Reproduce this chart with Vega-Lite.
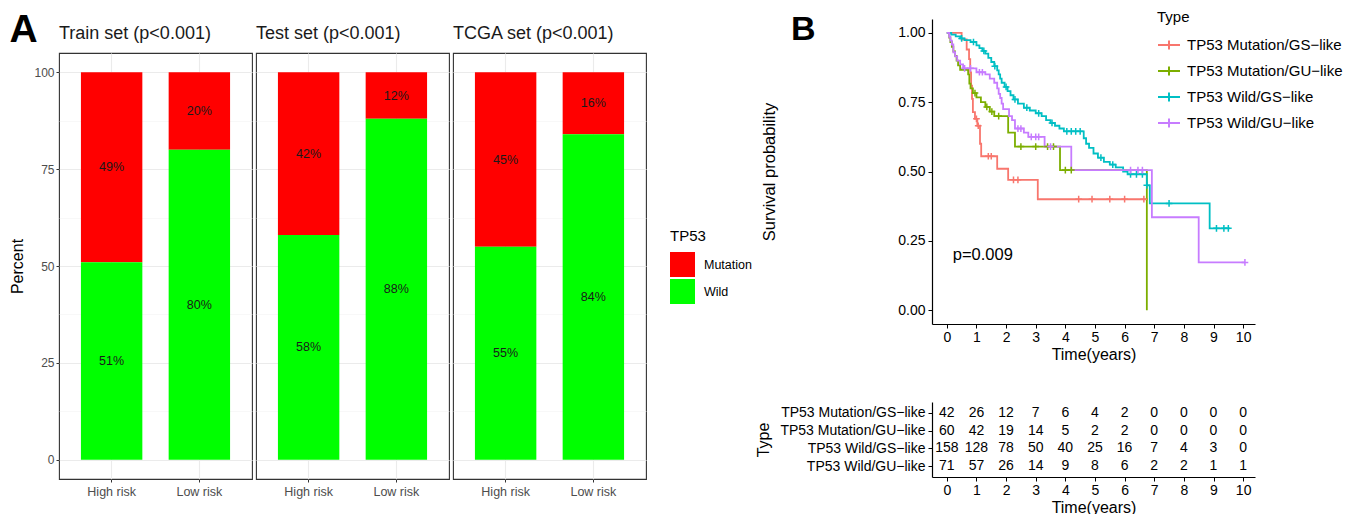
{
  "$schema": "https://vega.github.io/schema/vega-lite/v6.json",
  "padding": {"left": 9, "top": 10, "right": 2, "bottom": 0},
  "background": "white",
  "config": {"font": "Liberation Sans", "view": {"stroke": null}},
  "resolve": {"scale": {"color": "independent"}},
  "align": "none",
  "spacing": 3,
  "hconcat": [
    {
      "title": {"text": "A", "anchor": "start", "frame": "bounds", "fontSize": 39, "fontWeight": "bold", "color": "black", "offset": -31},
      "spacing": 4,
      "vconcat": [
        {
          "width": 1, "height": 1,
          "view": {"stroke": null},
          "data": {"values": [{"blank": ""}]},
          "mark": {"type": "text", "fontSize": 0},
          "encoding": {"text": {"field": "blank"}}
        },
        {
          "spacing": 2,
          "hconcat": [
            {
              "width": 193, "height": 426,
              "view": {"stroke": "#333333", "strokeWidth": 1.1, "fill": "white"},
              "title": {"text": "Train set (p<0.001)", "anchor": "start", "frame": "group", "fontSize": 18, "fontWeight": "normal", "color": "#1a1a1a", "offset": 10},
              "data": {"name": "bars"},
              "transform": [
                {"filter": "datum.set === 'Train'"},
                {"stack": "pct", "groupby": ["risk"], "sort": [{"field": "TP53", "order": "descending"}], "as": ["y0", "y1"]},
                {"calculate": "(datum.y0 + datum.y1) / 2", "as": "ymid"},
                {"calculate": "datum.pct + '%'", "as": "label"}
              ],
              "layer": [
                {"mark": {"type": "bar", "strokeWidth": 0},
                 "encoding": {
                   "x": {"field": "risk", "type": "nominal", "sort": ["High risk", "Low risk"], "scale": {"paddingInner": 0.3, "paddingOuter": 0.25},
                         "axis": {"title": null, "labelAngle": 0, "labelFontSize": 12.5, "labelColor": "#4d4d4d", "tickColor": "#333333", "tickSize": 3, "domain": false, "grid": true, "gridColor": "#ebebeb", "gridWidth": 1.1, "bandPosition": 0.5, "labelPadding": 3}},
                   "y": {"field": "y0", "type": "quantitative", "scale": {"domain": [-5, 105], "nice": false, "zero": false},
                         "axis": {"values": [0, 25, 50, 75, 100], "title": "Percent", "titleFontSize": 16, "titleFontWeight": "normal", "titleColor": "black", "titlePadding": 8, "labelFontSize": 12, "labelColor": "#4d4d4d", "tickColor": "#333333", "tickSize": 3, "labelPadding": 2, "domain": false, "grid": true, "gridColor": "#ebebeb", "gridWidth": 1.1}},
                   "y2": {"field": "y1"},
                   "color": {"field": "TP53", "type": "nominal", "scale": {"domain": ["Mutation", "Wild"], "range": ["#FF0000", "#00FF00"]},
                             "legend": {"title": "TP53", "orient": "none", "legendX": 611, "legendY": 210, "titleFontSize": 15, "titleFontWeight": "normal", "titleColor": "black", "titlePadding": 8, "labelFontSize": 12.5, "labelColor": "black", "symbolType": "square", "symbolSize": 625, "symbolStrokeWidth": 0, "symbolOpacity": 1, "rowPadding": 2, "labelOffset": 9}}
                 }},
                {"mark": {"type": "text", "fontSize": 12.5, "color": "#1a1a1a"},
                 "encoding": {
                   "x": {"field": "risk", "type": "nominal", "sort": ["High risk", "Low risk"]},
                   "y": {"field": "ymid", "type": "quantitative", "scale": {"domain": [-5, 105], "nice": false, "zero": false},
                         "axis": {"values": [12.5, 37.5, 62.5, 87.5], "grid": true, "gridColor": "#f3f3f3", "gridWidth": 0.6, "labels": false, "ticks": false, "domain": false, "title": null, "orient": "right"}},
                   "text": {"field": "label"}
                 }}
              ],
              "resolve": {"axis": {"y": "independent"}}
            },
            {
              "width": 193, "height": 426,
              "view": {"stroke": "#333333", "strokeWidth": 1.1, "fill": "white"},
              "title": {"text": "Test set (p<0.001)", "anchor": "start", "frame": "group", "fontSize": 18, "fontWeight": "normal", "color": "#1a1a1a", "offset": 10},
              "data": {"name": "bars"},
              "transform": [
                {"filter": "datum.set === 'Test'"},
                {"stack": "pct", "groupby": ["risk"], "sort": [{"field": "TP53", "order": "descending"}], "as": ["y0", "y1"]},
                {"calculate": "(datum.y0 + datum.y1) / 2", "as": "ymid"},
                {"calculate": "datum.pct + '%'", "as": "label"}
              ],
              "layer": [
                {"mark": {"type": "bar", "strokeWidth": 0},
                 "encoding": {
                   "x": {"field": "risk", "type": "nominal", "sort": ["High risk", "Low risk"], "scale": {"paddingInner": 0.3, "paddingOuter": 0.25},
                         "axis": {"title": null, "labelAngle": 0, "labelFontSize": 12.5, "labelColor": "#4d4d4d", "tickColor": "#333333", "tickSize": 3, "domain": false, "grid": true, "gridColor": "#ebebeb", "gridWidth": 1.1, "bandPosition": 0.5, "labelPadding": 3}},
                   "y": {"field": "y0", "type": "quantitative", "scale": {"domain": [-5, 105], "nice": false, "zero": false},
                         "axis": {"values": [0, 25, 50, 75, 100], "title": null, "labels": false, "ticks": false, "domain": false, "grid": true, "gridColor": "#ebebeb", "gridWidth": 1.1}},
                   "y2": {"field": "y1"},
                   "color": {"field": "TP53", "type": "nominal", "scale": {"domain": ["Mutation", "Wild"], "range": ["#FF0000", "#00FF00"]},
                             "legend": {"title": "TP53", "orient": "none", "legendX": 611, "legendY": 210, "titleFontSize": 15, "titleFontWeight": "normal", "titleColor": "black", "titlePadding": 8, "labelFontSize": 12.5, "labelColor": "black", "symbolType": "square", "symbolSize": 625, "symbolStrokeWidth": 0, "symbolOpacity": 1, "rowPadding": 2, "labelOffset": 9}}
                 }},
                {"mark": {"type": "text", "fontSize": 12.5, "color": "#1a1a1a"},
                 "encoding": {
                   "x": {"field": "risk", "type": "nominal", "sort": ["High risk", "Low risk"]},
                   "y": {"field": "ymid", "type": "quantitative", "scale": {"domain": [-5, 105], "nice": false, "zero": false},
                         "axis": {"values": [12.5, 37.5, 62.5, 87.5], "grid": true, "gridColor": "#f3f3f3", "gridWidth": 0.6, "labels": false, "ticks": false, "domain": false, "title": null, "orient": "right"}},
                   "text": {"field": "label"}
                 }}
              ],
              "resolve": {"axis": {"y": "independent"}}
            },
            {
              "width": 193, "height": 426,
              "view": {"stroke": "#333333", "strokeWidth": 1.1, "fill": "white"},
              "title": {"text": "TCGA set (p<0.001)", "anchor": "start", "frame": "group", "fontSize": 18, "fontWeight": "normal", "color": "#1a1a1a", "offset": 10},
              "data": {"name": "bars"},
              "transform": [
                {"filter": "datum.set === 'TCGA'"},
                {"stack": "pct", "groupby": ["risk"], "sort": [{"field": "TP53", "order": "descending"}], "as": ["y0", "y1"]},
                {"calculate": "(datum.y0 + datum.y1) / 2", "as": "ymid"},
                {"calculate": "datum.pct + '%'", "as": "label"}
              ],
              "layer": [
                {"mark": {"type": "bar", "strokeWidth": 0},
                 "encoding": {
                   "x": {"field": "risk", "type": "nominal", "sort": ["High risk", "Low risk"], "scale": {"paddingInner": 0.3, "paddingOuter": 0.25},
                         "axis": {"title": null, "labelAngle": 0, "labelFontSize": 12.5, "labelColor": "#4d4d4d", "tickColor": "#333333", "tickSize": 3, "domain": false, "grid": true, "gridColor": "#ebebeb", "gridWidth": 1.1, "bandPosition": 0.5, "labelPadding": 3}},
                   "y": {"field": "y0", "type": "quantitative", "scale": {"domain": [-5, 105], "nice": false, "zero": false},
                         "axis": {"values": [0, 25, 50, 75, 100], "title": null, "labels": false, "ticks": false, "domain": false, "grid": true, "gridColor": "#ebebeb", "gridWidth": 1.1}},
                   "y2": {"field": "y1"},
                   "color": {"field": "TP53", "type": "nominal", "scale": {"domain": ["Mutation", "Wild"], "range": ["#FF0000", "#00FF00"]},
                             "legend": {"title": "TP53", "orient": "none", "legendX": 611, "legendY": 210, "titleFontSize": 15, "titleFontWeight": "normal", "titleColor": "black", "titlePadding": 8, "labelFontSize": 12.5, "labelColor": "black", "symbolType": "square", "symbolSize": 625, "symbolStrokeWidth": 0, "symbolOpacity": 1, "rowPadding": 2, "labelOffset": 9}}
                 }},
                {"mark": {"type": "text", "fontSize": 12.5, "color": "#1a1a1a"},
                 "encoding": {
                   "x": {"field": "risk", "type": "nominal", "sort": ["High risk", "Low risk"]},
                   "y": {"field": "ymid", "type": "quantitative", "scale": {"domain": [-5, 105], "nice": false, "zero": false},
                         "axis": {"values": [12.5, 37.5, 62.5, 87.5], "grid": true, "gridColor": "#f3f3f3", "gridWidth": 0.6, "labels": false, "ticks": false, "domain": false, "title": null, "orient": "right"}},
                   "text": {"field": "label"}
                 }}
              ],
              "resolve": {"axis": {"y": "independent"}}
            }
          ]
        }
      ]
    },
    {
      "title": {"text": "B", "anchor": "start", "frame": "bounds", "fontSize": 34, "fontWeight": "bold", "color": "black", "offset": -37, "dx": 35},
      "spacing": 40,
      "vconcat": [
        {
          "width": 323, "height": 305,
          "view": {"stroke": null},
          "encoding": {
            "x": {"field": "t", "type": "quantitative", "scale": {"domain": [-0.5, 10.4], "nice": false, "zero": false},
                  "axis": {"values": [0, 1, 2, 3, 4, 5, 6, 7, 8, 9, 10], "title": "Time(years)", "titleFontSize": 16, "titleFontWeight": "normal", "titleColor": "black", "labelFontSize": 14, "labelColor": "black", "domainColor": "black", "domainWidth": 1.2, "tickColor": "black", "tickSize": 4, "labelPadding": 2, "titlePadding": 2, "grid": false, "labelFlush": false, "labelOverlap": false}},
            "y": {"field": "s", "type": "quantitative", "scale": {"domain": [-0.05, 1.05], "nice": false, "zero": false},
                  "axis": {"values": [0, 0.25, 0.5, 0.75, 1], "format": ".2f", "title": "Survival probability", "titleFontSize": 16.5, "titleFontWeight": "normal", "titleColor": "black", "titlePadding": 120, "labelFontSize": 14, "labelColor": "black", "domainColor": "black", "domainWidth": 1.2, "tickColor": "black", "tickSize": 4, "labelPadding": 3, "grid": false, "labelOverlap": false}}
          },
          "layer": [
            {"data": {"name": "km"},
             "mark": {"type": "line", "interpolate": "step-after", "strokeWidth": 1.8},
             "encoding": {
               "color": {"field": "grp", "type": "nominal",
                         "scale": {"domain": ["TP53 Mutation/GS−like", "TP53 Mutation/GU−like", "TP53 Wild/GS−like", "TP53 Wild/GU−like"], "range": ["#F8766D", "#7CAE00", "#00BFC4", "#C77CFF"]},
                         "legend": {"title": "Type", "orient": "none", "legendX": 225, "legendY": -9, "titleFontSize": 15, "titleFontWeight": "normal", "titleColor": "black", "titlePadding": 8, "labelFontSize": 15, "labelColor": "black", "labelLimit": 400, "symbolType": "M-1,0H1M0,-0.4V0.4", "symbolSize": 484, "symbolStrokeWidth": 2, "rowPadding": 5, "labelOffset": 6}}
             }},
            {"data": {"name": "cens"},
             "mark": {"type": "point", "shape": "M-1,0H1M0,-1V1", "size": 45, "filled": false, "strokeWidth": 1.5, "opacity": 1},
             "encoding": {
               "color": {"field": "grp", "type": "nominal",
                         "legend": {"title": "Type", "orient": "none", "legendX": 225, "legendY": -9, "titleFontSize": 15, "titleFontWeight": "normal", "titleColor": "black", "titlePadding": 8, "labelFontSize": 15, "labelColor": "black", "labelLimit": 400, "symbolType": "M-1,0H1M0,-0.4V0.4", "symbolSize": 484, "symbolStrokeWidth": 2, "rowPadding": 5, "labelOffset": 6}}
             }},
            {"data": {"name": "pv"},
             "mark": {"type": "text", "align": "left", "baseline": "middle", "fontSize": 16.5, "color": "black"},
             "encoding": {
               "text": {"field": "label"}
             }}
          ]
        },
        {
          "width": 323, "height": 75,
          "view": {"stroke": null},
          "data": {"name": "risk"},
          "mark": {"type": "text", "fontSize": 14, "color": "black"},
          "encoding": {
            "x": {"field": "t", "type": "quantitative", "scale": {"domain": [-0.5, 10.4], "nice": false, "zero": false},
                  "axis": {"values": [0, 1, 2, 3, 4, 5, 6, 7, 8, 9, 10], "title": "Time(years)", "titleFontSize": 16, "titleFontWeight": "normal", "titleColor": "black", "labelFontSize": 14, "labelColor": "black", "domainColor": "black", "domainWidth": 1.2, "tickColor": "black", "tickSize": 4, "labelPadding": 2, "titlePadding": 2, "grid": false, "labelFlush": false, "labelOverlap": false}},
            "y": {"field": "grp", "type": "nominal",
                  "scale": {"type": "point", "padding": 0.6, "domain": ["TP53 Mutation/GS−like", "TP53 Mutation/GU−like", "TP53 Wild/GS−like", "TP53 Wild/GU−like"]},
                  "axis": {"title": "Type", "titleFontSize": 16, "titleFontWeight": "normal", "titleColor": "black", "titlePadding": 8, "labelFontSize": 14, "labelPadding": 3, "labelLimit": 300, "tickSize": 4, "tickColor": "black", "domainColor": "black", "domainWidth": 1.2, "grid": false,
                           "encode": {"labels": {"update": {"fill": {"signal": "datum.value === 'TP53 Mutation/GS−like' ? '#F8766D' : datum.value === 'TP53 Mutation/GU−like' ? '#7CAE00' : datum.value === 'TP53 Wild/GS−like' ? '#00BFC4' : '#C77CFF'"}}}}}},
            "text": {"field": "n", "type": "quantitative"}
          }
        }
      ]
    }
  ],
  "datasets": {
    "bars": [
      {"set": "Train", "risk": "High risk", "TP53": "Mutation", "pct": 49},
      {"set": "Train", "risk": "High risk", "TP53": "Wild", "pct": 51},
      {"set": "Train", "risk": "Low risk", "TP53": "Mutation", "pct": 20},
      {"set": "Train", "risk": "Low risk", "TP53": "Wild", "pct": 80},
      {"set": "Test", "risk": "High risk", "TP53": "Mutation", "pct": 42},
      {"set": "Test", "risk": "High risk", "TP53": "Wild", "pct": 58},
      {"set": "Test", "risk": "Low risk", "TP53": "Mutation", "pct": 12},
      {"set": "Test", "risk": "Low risk", "TP53": "Wild", "pct": 88},
      {"set": "TCGA", "risk": "High risk", "TP53": "Mutation", "pct": 45},
      {"set": "TCGA", "risk": "High risk", "TP53": "Wild", "pct": 55},
      {"set": "TCGA", "risk": "Low risk", "TP53": "Mutation", "pct": 16},
      {"set": "TCGA", "risk": "Low risk", "TP53": "Wild", "pct": 84}
    ],
    "km": [
      {"grp": "TP53 Mutation/GS−like", "t": 0, "s": 1},
      {"grp": "TP53 Mutation/GS−like", "t": 0.5, "s": 0.976},
      {"grp": "TP53 Mutation/GS−like", "t": 0.67, "s": 0.94},
      {"grp": "TP53 Mutation/GS−like", "t": 0.75, "s": 0.905},
      {"grp": "TP53 Mutation/GS−like", "t": 0.79, "s": 0.857},
      {"grp": "TP53 Mutation/GS−like", "t": 0.82, "s": 0.81},
      {"grp": "TP53 Mutation/GS−like", "t": 0.85, "s": 0.762},
      {"grp": "TP53 Mutation/GS−like", "t": 0.88, "s": 0.714},
      {"grp": "TP53 Mutation/GS−like", "t": 0.95, "s": 0.69},
      {"grp": "TP53 Mutation/GS−like", "t": 1.03, "s": 0.665},
      {"grp": "TP53 Mutation/GS−like", "t": 1.12, "s": 0.6},
      {"grp": "TP53 Mutation/GS−like", "t": 1.16, "s": 0.555},
      {"grp": "TP53 Mutation/GS−like", "t": 1.7, "s": 0.51},
      {"grp": "TP53 Mutation/GS−like", "t": 2.07, "s": 0.47},
      {"grp": "TP53 Mutation/GS−like", "t": 3.07, "s": 0.4},
      {"grp": "TP53 Mutation/GS−like", "t": 6.78, "s": 0.4},
      {"grp": "TP53 Mutation/GU−like", "t": 0, "s": 1},
      {"grp": "TP53 Mutation/GU−like", "t": 0.08, "s": 0.983},
      {"grp": "TP53 Mutation/GU−like", "t": 0.12, "s": 0.967},
      {"grp": "TP53 Mutation/GU−like", "t": 0.17, "s": 0.95},
      {"grp": "TP53 Mutation/GU−like", "t": 0.22, "s": 0.933},
      {"grp": "TP53 Mutation/GU−like", "t": 0.28, "s": 0.917},
      {"grp": "TP53 Mutation/GU−like", "t": 0.33, "s": 0.9},
      {"grp": "TP53 Mutation/GU−like", "t": 0.38, "s": 0.883},
      {"grp": "TP53 Mutation/GU−like", "t": 0.45, "s": 0.867},
      {"grp": "TP53 Mutation/GU−like", "t": 0.72, "s": 0.85},
      {"grp": "TP53 Mutation/GU−like", "t": 0.76, "s": 0.817},
      {"grp": "TP53 Mutation/GU−like", "t": 0.8, "s": 0.8},
      {"grp": "TP53 Mutation/GU−like", "t": 0.88, "s": 0.783},
      {"grp": "TP53 Mutation/GU−like", "t": 1.0, "s": 0.767},
      {"grp": "TP53 Mutation/GU−like", "t": 1.15, "s": 0.75},
      {"grp": "TP53 Mutation/GU−like", "t": 1.3, "s": 0.733},
      {"grp": "TP53 Mutation/GU−like", "t": 1.45, "s": 0.716},
      {"grp": "TP53 Mutation/GU−like", "t": 1.6, "s": 0.7},
      {"grp": "TP53 Mutation/GU−like", "t": 2.07, "s": 0.64},
      {"grp": "TP53 Mutation/GU−like", "t": 2.3, "s": 0.59},
      {"grp": "TP53 Mutation/GU−like", "t": 3.82, "s": 0.505},
      {"grp": "TP53 Mutation/GU−like", "t": 6.75, "s": 0},
      {"grp": "TP53 Wild/GS−like", "t": 0, "s": 1},
      {"grp": "TP53 Wild/GS−like", "t": 0.15, "s": 0.994},
      {"grp": "TP53 Wild/GS−like", "t": 0.3, "s": 0.987},
      {"grp": "TP53 Wild/GS−like", "t": 0.45, "s": 0.98},
      {"grp": "TP53 Wild/GS−like", "t": 0.6, "s": 0.974},
      {"grp": "TP53 Wild/GS−like", "t": 0.8, "s": 0.967},
      {"grp": "TP53 Wild/GS−like", "t": 1.0, "s": 0.955},
      {"grp": "TP53 Wild/GS−like", "t": 1.1, "s": 0.945},
      {"grp": "TP53 Wild/GS−like", "t": 1.2, "s": 0.935},
      {"grp": "TP53 Wild/GS−like", "t": 1.3, "s": 0.925},
      {"grp": "TP53 Wild/GS−like", "t": 1.4, "s": 0.91},
      {"grp": "TP53 Wild/GS−like", "t": 1.5, "s": 0.895},
      {"grp": "TP53 Wild/GS−like", "t": 1.6, "s": 0.88},
      {"grp": "TP53 Wild/GS−like", "t": 1.7, "s": 0.865},
      {"grp": "TP53 Wild/GS−like", "t": 1.75, "s": 0.85},
      {"grp": "TP53 Wild/GS−like", "t": 1.8, "s": 0.835},
      {"grp": "TP53 Wild/GS−like", "t": 1.85, "s": 0.82},
      {"grp": "TP53 Wild/GS−like", "t": 1.95, "s": 0.805},
      {"grp": "TP53 Wild/GS−like", "t": 2.05, "s": 0.79},
      {"grp": "TP53 Wild/GS−like", "t": 2.15, "s": 0.775},
      {"grp": "TP53 Wild/GS−like", "t": 2.25, "s": 0.76},
      {"grp": "TP53 Wild/GS−like", "t": 2.4, "s": 0.745},
      {"grp": "TP53 Wild/GS−like", "t": 2.6, "s": 0.73},
      {"grp": "TP53 Wild/GS−like", "t": 2.8, "s": 0.72},
      {"grp": "TP53 Wild/GS−like", "t": 3.0, "s": 0.71},
      {"grp": "TP53 Wild/GS−like", "t": 3.2, "s": 0.7},
      {"grp": "TP53 Wild/GS−like", "t": 3.35, "s": 0.685},
      {"grp": "TP53 Wild/GS−like", "t": 3.5, "s": 0.675},
      {"grp": "TP53 Wild/GS−like", "t": 3.65, "s": 0.665},
      {"grp": "TP53 Wild/GS−like", "t": 3.8, "s": 0.655},
      {"grp": "TP53 Wild/GS−like", "t": 3.95, "s": 0.645},
      {"grp": "TP53 Wild/GS−like", "t": 4.62, "s": 0.62},
      {"grp": "TP53 Wild/GS−like", "t": 4.7, "s": 0.6},
      {"grp": "TP53 Wild/GS−like", "t": 4.8, "s": 0.585},
      {"grp": "TP53 Wild/GS−like", "t": 4.95, "s": 0.565},
      {"grp": "TP53 Wild/GS−like", "t": 5.1, "s": 0.55},
      {"grp": "TP53 Wild/GS−like", "t": 5.3, "s": 0.535},
      {"grp": "TP53 Wild/GS−like", "t": 5.5, "s": 0.525},
      {"grp": "TP53 Wild/GS−like", "t": 5.7, "s": 0.515},
      {"grp": "TP53 Wild/GS−like", "t": 5.95, "s": 0.5},
      {"grp": "TP53 Wild/GS−like", "t": 6.1, "s": 0.49},
      {"grp": "TP53 Wild/GS−like", "t": 6.75, "s": 0.45},
      {"grp": "TP53 Wild/GS−like", "t": 6.85, "s": 0.385},
      {"grp": "TP53 Wild/GS−like", "t": 8.87, "s": 0.295},
      {"grp": "TP53 Wild/GS−like", "t": 9.55, "s": 0.295},
      {"grp": "TP53 Wild/GU−like", "t": 0, "s": 1},
      {"grp": "TP53 Wild/GU−like", "t": 0.08, "s": 0.986},
      {"grp": "TP53 Wild/GU−like", "t": 0.12, "s": 0.972},
      {"grp": "TP53 Wild/GU−like", "t": 0.17, "s": 0.958},
      {"grp": "TP53 Wild/GU−like", "t": 0.22, "s": 0.93},
      {"grp": "TP53 Wild/GU−like", "t": 0.28, "s": 0.915},
      {"grp": "TP53 Wild/GU−like", "t": 0.35, "s": 0.9},
      {"grp": "TP53 Wild/GU−like", "t": 0.45, "s": 0.886},
      {"grp": "TP53 Wild/GU−like", "t": 0.55, "s": 0.872},
      {"grp": "TP53 Wild/GU−like", "t": 1.0, "s": 0.858},
      {"grp": "TP53 Wild/GU−like", "t": 1.3, "s": 0.85},
      {"grp": "TP53 Wild/GU−like", "t": 1.45, "s": 0.835},
      {"grp": "TP53 Wild/GU−like", "t": 1.6, "s": 0.82},
      {"grp": "TP53 Wild/GU−like", "t": 1.7, "s": 0.8},
      {"grp": "TP53 Wild/GU−like", "t": 1.75, "s": 0.78},
      {"grp": "TP53 Wild/GU−like", "t": 1.8, "s": 0.765},
      {"grp": "TP53 Wild/GU−like", "t": 1.85, "s": 0.745},
      {"grp": "TP53 Wild/GU−like", "t": 1.9, "s": 0.725},
      {"grp": "TP53 Wild/GU−like", "t": 2.1, "s": 0.7},
      {"grp": "TP53 Wild/GU−like", "t": 2.2, "s": 0.685},
      {"grp": "TP53 Wild/GU−like", "t": 2.3, "s": 0.655},
      {"grp": "TP53 Wild/GU−like", "t": 2.6, "s": 0.64},
      {"grp": "TP53 Wild/GU−like", "t": 2.75, "s": 0.625},
      {"grp": "TP53 Wild/GU−like", "t": 3.3, "s": 0.59},
      {"grp": "TP53 Wild/GU−like", "t": 4.2, "s": 0.505},
      {"grp": "TP53 Wild/GU−like", "t": 6.92, "s": 0.335},
      {"grp": "TP53 Wild/GU−like", "t": 8.5, "s": 0.172},
      {"grp": "TP53 Wild/GU−like", "t": 10.06, "s": 0.172}
    ],
    "cens": [
      {"grp": "TP53 Mutation/GS−like", "t": 1.0, "s": 0.69},
      {"grp": "TP53 Mutation/GS−like", "t": 1.06, "s": 0.665},
      {"grp": "TP53 Mutation/GS−like", "t": 1.4, "s": 0.555},
      {"grp": "TP53 Mutation/GS−like", "t": 1.5, "s": 0.555},
      {"grp": "TP53 Mutation/GS−like", "t": 2.25, "s": 0.47},
      {"grp": "TP53 Mutation/GS−like", "t": 2.4, "s": 0.47},
      {"grp": "TP53 Mutation/GS−like", "t": 4.45, "s": 0.4},
      {"grp": "TP53 Mutation/GS−like", "t": 4.9, "s": 0.4},
      {"grp": "TP53 Mutation/GS−like", "t": 5.5, "s": 0.4},
      {"grp": "TP53 Mutation/GS−like", "t": 6.0, "s": 0.4},
      {"grp": "TP53 Mutation/GS−like", "t": 6.65, "s": 0.4},
      {"grp": "TP53 Mutation/GU−like", "t": 0.95, "s": 0.783},
      {"grp": "TP53 Mutation/GU−like", "t": 1.35, "s": 0.733},
      {"grp": "TP53 Mutation/GU−like", "t": 1.52, "s": 0.716},
      {"grp": "TP53 Mutation/GU−like", "t": 1.75, "s": 0.7},
      {"grp": "TP53 Mutation/GU−like", "t": 2.5, "s": 0.59},
      {"grp": "TP53 Mutation/GU−like", "t": 3.0, "s": 0.59},
      {"grp": "TP53 Mutation/GU−like", "t": 3.4, "s": 0.59},
      {"grp": "TP53 Mutation/GU−like", "t": 3.6, "s": 0.59},
      {"grp": "TP53 Mutation/GU−like", "t": 4.0, "s": 0.505},
      {"grp": "TP53 Mutation/GU−like", "t": 4.2, "s": 0.505},
      {"grp": "TP53 Wild/GS−like", "t": 0.5, "s": 0.98},
      {"grp": "TP53 Wild/GS−like", "t": 0.9, "s": 0.967},
      {"grp": "TP53 Wild/GS−like", "t": 1.25, "s": 0.935},
      {"grp": "TP53 Wild/GS−like", "t": 1.62, "s": 0.88},
      {"grp": "TP53 Wild/GS−like", "t": 2.0, "s": 0.805},
      {"grp": "TP53 Wild/GS−like", "t": 2.3, "s": 0.76},
      {"grp": "TP53 Wild/GS−like", "t": 2.7, "s": 0.73},
      {"grp": "TP53 Wild/GS−like", "t": 3.1, "s": 0.71},
      {"grp": "TP53 Wild/GS−like", "t": 3.55, "s": 0.675},
      {"grp": "TP53 Wild/GS−like", "t": 4.05, "s": 0.645},
      {"grp": "TP53 Wild/GS−like", "t": 4.2, "s": 0.645},
      {"grp": "TP53 Wild/GS−like", "t": 4.35, "s": 0.645},
      {"grp": "TP53 Wild/GS−like", "t": 4.5, "s": 0.645},
      {"grp": "TP53 Wild/GS−like", "t": 5.2, "s": 0.55},
      {"grp": "TP53 Wild/GS−like", "t": 5.6, "s": 0.525},
      {"grp": "TP53 Wild/GS−like", "t": 6.2, "s": 0.49},
      {"grp": "TP53 Wild/GS−like", "t": 6.4, "s": 0.49},
      {"grp": "TP53 Wild/GS−like", "t": 6.6, "s": 0.49},
      {"grp": "TP53 Wild/GS−like", "t": 6.75, "s": 0.45},
      {"grp": "TP53 Wild/GS−like", "t": 7.5, "s": 0.385},
      {"grp": "TP53 Wild/GS−like", "t": 9.1, "s": 0.295},
      {"grp": "TP53 Wild/GS−like", "t": 9.35, "s": 0.295},
      {"grp": "TP53 Wild/GS−like", "t": 9.5, "s": 0.295},
      {"grp": "TP53 Wild/GU−like", "t": 0.6, "s": 0.872},
      {"grp": "TP53 Wild/GU−like", "t": 0.8, "s": 0.872},
      {"grp": "TP53 Wild/GU−like", "t": 1.1, "s": 0.858},
      {"grp": "TP53 Wild/GU−like", "t": 1.2, "s": 0.858},
      {"grp": "TP53 Wild/GU−like", "t": 2.4, "s": 0.655},
      {"grp": "TP53 Wild/GU−like", "t": 2.5, "s": 0.655},
      {"grp": "TP53 Wild/GU−like", "t": 2.85, "s": 0.625},
      {"grp": "TP53 Wild/GU−like", "t": 3.0, "s": 0.625},
      {"grp": "TP53 Wild/GU−like", "t": 3.1, "s": 0.625},
      {"grp": "TP53 Wild/GU−like", "t": 3.5, "s": 0.59},
      {"grp": "TP53 Wild/GU−like", "t": 6.2, "s": 0.505},
      {"grp": "TP53 Wild/GU−like", "t": 6.45, "s": 0.505},
      {"grp": "TP53 Wild/GU−like", "t": 6.6, "s": 0.505},
      {"grp": "TP53 Wild/GU−like", "t": 10.06, "s": 0.172}
    ],
    "pv": [
      {"t": 0.2, "s": 0.2, "label": "p=0.009"}
    ],
    "risk": [
      {"grp": "TP53 Mutation/GS−like", "t": 0, "n": 42},
      {"grp": "TP53 Mutation/GS−like", "t": 1, "n": 26},
      {"grp": "TP53 Mutation/GS−like", "t": 2, "n": 12},
      {"grp": "TP53 Mutation/GS−like", "t": 3, "n": 7},
      {"grp": "TP53 Mutation/GS−like", "t": 4, "n": 6},
      {"grp": "TP53 Mutation/GS−like", "t": 5, "n": 4},
      {"grp": "TP53 Mutation/GS−like", "t": 6, "n": 2},
      {"grp": "TP53 Mutation/GS−like", "t": 7, "n": 0},
      {"grp": "TP53 Mutation/GS−like", "t": 8, "n": 0},
      {"grp": "TP53 Mutation/GS−like", "t": 9, "n": 0},
      {"grp": "TP53 Mutation/GS−like", "t": 10, "n": 0},
      {"grp": "TP53 Mutation/GU−like", "t": 0, "n": 60},
      {"grp": "TP53 Mutation/GU−like", "t": 1, "n": 42},
      {"grp": "TP53 Mutation/GU−like", "t": 2, "n": 19},
      {"grp": "TP53 Mutation/GU−like", "t": 3, "n": 14},
      {"grp": "TP53 Mutation/GU−like", "t": 4, "n": 5},
      {"grp": "TP53 Mutation/GU−like", "t": 5, "n": 2},
      {"grp": "TP53 Mutation/GU−like", "t": 6, "n": 2},
      {"grp": "TP53 Mutation/GU−like", "t": 7, "n": 0},
      {"grp": "TP53 Mutation/GU−like", "t": 8, "n": 0},
      {"grp": "TP53 Mutation/GU−like", "t": 9, "n": 0},
      {"grp": "TP53 Mutation/GU−like", "t": 10, "n": 0},
      {"grp": "TP53 Wild/GS−like", "t": 0, "n": 158},
      {"grp": "TP53 Wild/GS−like", "t": 1, "n": 128},
      {"grp": "TP53 Wild/GS−like", "t": 2, "n": 78},
      {"grp": "TP53 Wild/GS−like", "t": 3, "n": 50},
      {"grp": "TP53 Wild/GS−like", "t": 4, "n": 40},
      {"grp": "TP53 Wild/GS−like", "t": 5, "n": 25},
      {"grp": "TP53 Wild/GS−like", "t": 6, "n": 16},
      {"grp": "TP53 Wild/GS−like", "t": 7, "n": 7},
      {"grp": "TP53 Wild/GS−like", "t": 8, "n": 4},
      {"grp": "TP53 Wild/GS−like", "t": 9, "n": 3},
      {"grp": "TP53 Wild/GS−like", "t": 10, "n": 0},
      {"grp": "TP53 Wild/GU−like", "t": 0, "n": 71},
      {"grp": "TP53 Wild/GU−like", "t": 1, "n": 57},
      {"grp": "TP53 Wild/GU−like", "t": 2, "n": 26},
      {"grp": "TP53 Wild/GU−like", "t": 3, "n": 14},
      {"grp": "TP53 Wild/GU−like", "t": 4, "n": 9},
      {"grp": "TP53 Wild/GU−like", "t": 5, "n": 8},
      {"grp": "TP53 Wild/GU−like", "t": 6, "n": 6},
      {"grp": "TP53 Wild/GU−like", "t": 7, "n": 2},
      {"grp": "TP53 Wild/GU−like", "t": 8, "n": 2},
      {"grp": "TP53 Wild/GU−like", "t": 9, "n": 1},
      {"grp": "TP53 Wild/GU−like", "t": 10, "n": 1}
    ]
  }
}
